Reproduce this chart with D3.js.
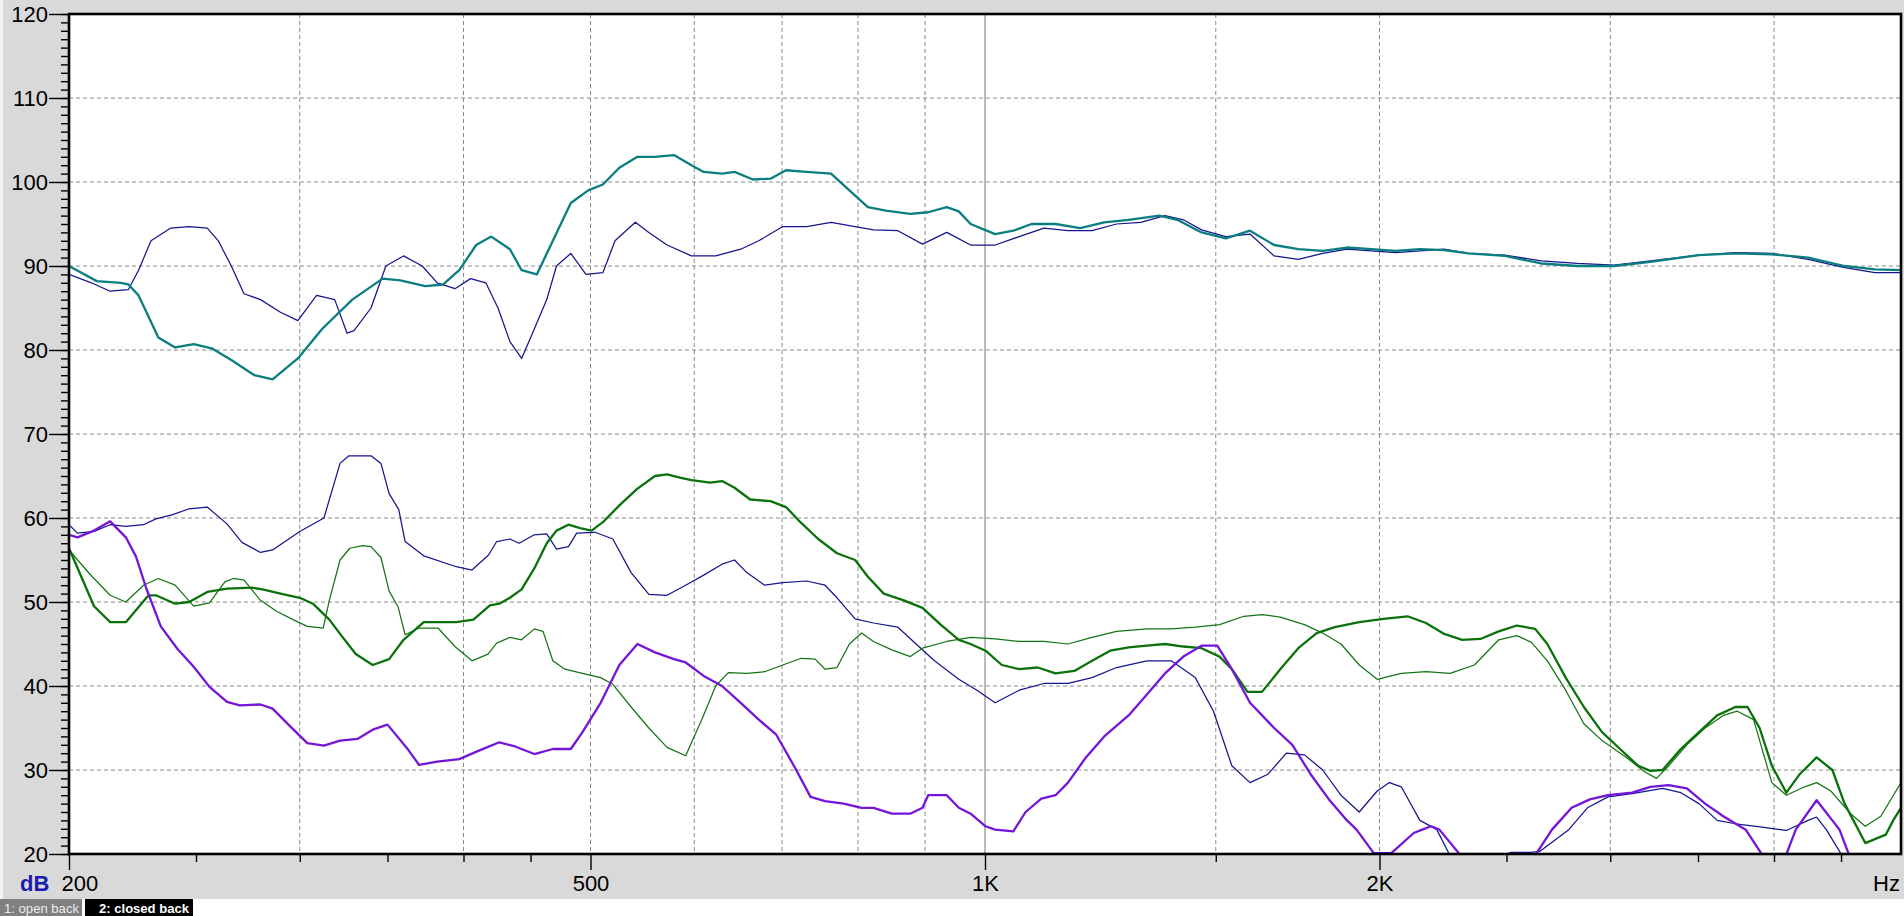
<!DOCTYPE html>
<html><head><meta charset="utf-8">
<script src="https://cdn.jsdelivr.net/npm/d3@7"></script>
<style>
html,body{margin:0;padding:0;background:#fff;overflow:hidden;}
svg{display:block;font-family:"Liberation Sans",Arial,sans-serif;}
</style></head><body>
<svg id="c" width="1904" height="916"></svg>
<script>
// ---------- data (frequency Hz, level dB) ----------
const openTop = [[200,89.0],[208,88.0],[215,87.0],[222,87.2],[226,89.5],[231,93.0],[239,94.5],[247,94.7],[255,94.5],[260,93.0],[266,90.0],[272,86.7],[280,86.0],[290,84.5],[299,83.5],[309,86.5],[319,86.0],[326,82.0],[330,82.3],[340,85.0],[349,90.0],[360,91.2],[372,90.0],[382,88.0],[394,87.3],[405,88.5],[416,88.0],[425,85.0],[434,81.0],[443,79.0],[453,82.5],[463,86.0],[471,90.0],[483,91.5],[496,89.0],[511,89.2],[522,93.0],[541,95.2],[554,94.0],[572,92.5],[597,91.2],[623,91.2],[651,92.0],[672,93.0],[701,94.7],[731,94.7],[763,95.2],[788,94.8],[822,94.3],[858,94.2],[896,92.6],[935,94.0],[975,92.5],[1018,92.5],[1062,93.5],[1109,94.5],[1157,94.2],[1207,94.2],[1260,95.0],[1315,95.2],[1372,96.0],[1417,95.5],[1463,94.3],[1527,93.5],[1593,93.8],[1662,91.2],[1734,90.8],[1810,91.5],[1889,92.0],[1971,91.8],[2057,91.6],[2147,91.8],[2241,92.0],[2338,91.5],[2493,91.3],[2657,90.6],[2833,90.3],[3020,90.1],[3219,90.6],[3506,91.3],[3738,91.6],[3985,91.5],[4247,90.8],[4528,89.8],[4776,89.2],[5000,89.2]];
const openLow = [[200,59.2],[203,58.2],[209,58.4],[215,59.2],[221,59.0],[228,59.2],[233,59.9],[240,60.4],[247,61.1],[255,61.3],[264,59.3],[271,57.1],[280,55.9],[286,56.2],[300,58.4],[313,60.0],[322,66.5],[327,67.4],[340,67.4],[346,66.5],[351,62.9],[357,61.0],[361,57.2],[373,55.5],[395,54.2],[406,53.8],[418,55.6],[424,57.2],[434,57.5],[441,57.0],[453,58.0],[463,58.1],[471,56.3],[481,56.6],[488,58.2],[504,58.3],[520,57.5],[537,53.5],[554,50.9],[572,50.8],[591,52.0],[610,53.2],[630,54.5],[644,55.0],[658,53.5],[679,52.0],[701,52.3],[731,52.5],[755,52.0],[771,50.5],[796,48.0],[822,47.5],[858,47.0],[886,45.0],[915,43.0],[955,40.8],[986,39.5],[1018,38.0],[1062,39.5],[1109,40.3],[1157,40.3],[1207,41.0],[1260,42.2],[1329,43.0],[1387,43.0],[1447,41.0],[1494,37.0],[1543,30.5],[1593,28.5],[1644,29.5],[1698,32.0],[1753,31.8],[1810,30.0],[1869,27.0],[1930,25.0],[1992,27.5],[2035,28.5],[2078,28.0],[2147,24.0],[2212,22.9],[2264,19.8],[2380,18.0],[2480,19.8],[2520,20.2],[2610,20.2],[2650,20.3],[2789,22.9],[2882,25.5],[2988,26.8],[3118,27.2],[3289,27.8],[3396,27.3],[3506,26.0],[3620,24.0],[3738,23.6],[3918,23.2],[4088,22.8],[4247,24.0],[4311,24.4],[4385,22.9],[4509,19.8],[4650,17.5]];
const openMid = [[200,56.2],[207.5,53.3],[215,50.8],[221,50.0],[228,52.0],[234,52.8],[241,52.0],[249,49.5],[256,49.9],[263,52.4],[267,52.8],[272,52.6],[280,50.2],[288,48.9],[296.5,47.9],[304,47.1],[312.6,46.9],[316,50.2],[322,55.0],[327.6,56.4],[335,56.7],[340,56.6],[346,55.3],[351,51.3],[356.6,49.4],[361,46.1],[370,46.9],[382.5,46.9],[394,44.7],[406,43.0],[417.6,43.8],[424,45.1],[434,45.8],[443,45.5],[453,46.8],[460,46.5],[468,43.0],[478,42.0],[493,41.5],[509,41.0],[520,40.2],[537,37.5],[554,35.0],[572,32.7],[591,31.7],[608,36.0],[623,40.0],[637,41.6],[658,41.5],[679,41.7],[701,42.5],[724,43.3],[742,43.2],[755,42.0],[771,42.2],[788,45.0],[805,46.3],[822,45.3],[849,44.3],[877,43.5],[896,44.5],[935,45.3],[975,45.8],[1018,45.6],[1062,45.3],[1109,45.3],[1157,45.0],[1207,45.8],[1260,46.5],[1329,46.8],[1387,46.8],[1447,47.0],[1510,47.3],[1576,48.3],[1627,48.5],[1680,48.2],[1753,47.3],[1810,46.3],[1869,45.0],[1930,42.5],[1992,40.8],[2078,41.5],[2170,41.7],[2264,41.5],[2363,42.5],[2466,45.5],[2546,46.0],[2612,45.2],[2686,43.0],[2774,39.5],[2864,35.5],[2957,33.5],[3086,31.5],[3186,29.8],[3254,29.0],[3324,30.5],[3432,33.0],[3544,35.0],[3659,36.5],[3750,37.0],[3859,36.0],[3985,28.5],[4088,27.0],[4221,28.0],[4311,28.5],[4420,27.5],[4576,24.8],[4696,23.3],[4826,24.5],[5000,28.5]];
const closedTop = [[200,90.0],[210,88.2],[219,88.0],[222,87.8],[226,86.5],[234,81.5],[241,80.3],[249,80.7],[257,80.2],[266,78.8],[277,77.0],[286,76.5],[299,79.0],[312,82.5],[329,86.0],[347,88.5],[358,88.3],[374,87.6],[386,87.8],[397,89.5],[409,92.5],[420,93.5],[434,92.0],[443,89.5],[455,89.0],[468,93.0],[483,97.5],[498,99.0],[511,99.7],[526,101.7],[543,103.0],[560,103.0],[579,103.2],[597,102.0],[610,101.2],[630,101.0],[644,101.2],[665,100.3],[686,100.4],[705,101.4],[731,101.2],[763,101.0],[788,99.0],[814,97.0],[840,96.6],[877,96.2],[905,96.4],[935,97.0],[955,96.5],[975,95.0],[1018,93.8],[1051,94.2],[1085,95.0],[1132,95.0],[1182,94.5],[1233,95.2],[1287,95.5],[1358,96.0],[1402,95.5],[1463,94.0],[1527,93.3],[1593,94.2],[1662,92.5],[1734,92.0],[1810,91.8],[1889,92.2],[1971,92.0],[2057,91.8],[2147,92.0],[2241,91.9],[2338,91.5],[2493,91.2],[2657,90.3],[2833,90.0],[3020,90.0],[3219,90.5],[3506,91.3],[3738,91.5],[3985,91.4],[4247,91.0],[4528,90.0],[4776,89.6],[5000,89.5]];
const closedMid = [[200,56.4],[209,49.5],[215,47.6],[221,47.6],[230,50.8],[233,50.8],[241,49.8],[247,50.0],[255,51.2],[264,51.6],[276,51.7],[281,51.5],[290,51.0],[300,50.5],[307,49.8],[316,47.9],[322,46.2],[331,43.8],[341,42.5],[351,43.2],[360,45.5],[373,47.6],[395,47.6],[407,47.9],[419,49.6],[426,49.8],[434,50.5],[443,51.5],[453,54.0],[463,57.0],[471,58.5],[481,59.2],[491,58.8],[501,58.5],[511,59.5],[526,61.5],[543,63.5],[560,65.0],[572,65.2],[585,64.8],[597,64.5],[617,64.2],[630,64.4],[644,63.6],[662,62.2],[686,62.0],[705,61.3],[723,59.5],[746,57.5],[771,55.8],[796,55.0],[814,53.0],[837,51.0],[867,50.2],[896,49.3],[925,47.3],[955,45.5],[975,45.0],[1001,44.2],[1030,42.5],[1062,42.0],[1097,42.2],[1132,41.5],[1170,41.8],[1207,43.0],[1246,44.2],[1287,44.6],[1329,44.8],[1372,45.0],[1417,44.7],[1463,44.5],[1510,43.5],[1543,42.0],[1586,39.3],[1627,39.3],[1680,42.0],[1734,44.5],[1791,46.3],[1849,47.0],[1930,47.6],[2014,48.0],[2101,48.3],[2170,47.5],[2241,46.2],[2313,45.5],[2388,45.6],[2466,46.5],[2546,47.2],[2629,46.8],[2686,45.0],[2774,41.0],[2864,37.5],[2957,34.5],[3052,32.5],[3151,30.5],[3219,29.9],[3289,30.0],[3396,32.5],[3506,34.5],[3620,36.5],[3738,37.5],[3818,37.5],[3900,35.0],[3985,30.5],[4088,27.3],[4185,29.5],[4311,31.5],[4432,30.0],[4528,26.0],[4696,21.3],[4868,22.3],[4932,24.0],[5000,25.5]];
const closedLow = [[200,58.0],[203,57.7],[209,58.5],[215,59.6],[221,57.7],[225,55.4],[229,51.7],[235,47.1],[242,44.4],[249,42.3],[256,39.9],[264,38.1],[270,37.7],[280,37.8],[286,37.3],[295,35.2],[304,33.2],[313,32.9],[322,33.5],[332,33.7],[341,34.8],[350,35.4],[363,32.4],[370,30.6],[382,31.0],[397,31.3],[411,32.3],[426,33.3],[438,32.8],[453,31.9],[468,32.5],[483,32.5],[493,34.5],[509,38.0],[526,42.5],[543,45.0],[560,44.0],[579,43.2],[591,42.8],[610,41.2],[630,40.0],[651,38.0],[672,36.0],[693,34.2],[716,30.3],[736,26.8],[755,26.3],[780,26.0],[805,25.5],[822,25.5],[849,24.8],[877,24.8],[896,25.5],[905,27.0],[935,27.0],[955,25.5],[975,24.8],[1001,23.3],[1018,22.9],[1051,22.7],[1074,25.0],[1104,26.6],[1132,27.0],[1157,28.5],[1194,31.5],[1233,34.0],[1287,36.5],[1329,39.0],[1372,41.5],[1417,43.5],[1463,44.8],[1504,44.8],[1543,42.0],[1593,38.0],[1662,35.0],[1716,33.0],[1772,29.5],[1830,26.5],[1889,24.0],[1921,22.9],[1980,20.1],[2042,20.1],[2124,22.5],[2156,22.9],[2190,23.3],[2222,22.9],[2313,19.6],[2400,17.5],[2540,17.5],[2628,19.8],[2708,22.9],[2803,25.5],[2894,26.5],[2988,27.0],[3118,27.3],[3219,28.0],[3324,28.2],[3432,27.8],[3544,26.0],[3659,24.5],[3806,22.9],[3922,19.8],[4000,18.0],[4084,19.8],[4156,22.9],[4311,26.4],[4488,22.9],[4566,19.8],[4700,17.5]];

const yMajor = [20,30,40,50,60,70,80,90,100,110,120];
const xMajor = [200,500,1000,2000];
const xMajorLabels = ["200","500","1K","2K"];
const xMinor = [250,300,350,400,450,1500,2500,3000,3500,4000,4500];
const xGrid = [300,400,500,600,700,800,900,1500,2000,3000,4000];
const legendLabels = ["1: open back","2: closed back"];

// ---------- layout ----------
const svg = d3.select("#c");
const L=69, T=14, R=1901, B=854;
const x = d3.scaleLog().domain([200,5000]).range([L,R]);
const y = d3.scaleLinear().domain([20,120]).range([B,T]);

svg.append("rect").attr("x",0).attr("y",0).attr("width",1904).attr("height",899).attr("fill","#d9d9d9");
svg.append("rect").attr("x",0).attr("y",0).attr("width",3).attr("height",899).attr("fill","#f2f2f2");
svg.append("rect").attr("x",L).attr("y",T).attr("width",R-L).attr("height",B-T).attr("fill","#ffffff");

// grid
const grid = svg.append("g");
grid.selectAll("line.h").data(yMajor.filter(v=>v>20&&v<120)).enter().append("line")
  .attr("x1",L).attr("x2",R).attr("y1",d=>y(d)).attr("y2",d=>y(d))
  .attr("stroke","#8a8a8a").attr("stroke-width",1).attr("stroke-dasharray","4,3");
grid.selectAll("line.v").data(xGrid).enter().append("line")
  .attr("y1",T).attr("y2",B).attr("x1",d=>x(d)).attr("x2",d=>x(d))
  .attr("stroke","#8a8a8a").attr("stroke-width",1).attr("stroke-dasharray","4,3");
grid.append("line").attr("y1",T).attr("y2",B).attr("x1",x(1000)).attr("x2",x(1000))
  .attr("stroke","#8c8c8c").attr("stroke-width",1.2);

// series
svg.append("clipPath").attr("id","clip").append("rect")
  .attr("x",L).attr("y",T).attr("width",R-L).attr("height",B-T);
const line = d3.line().x(d=>x(d[0])).y(d=>y(d[1]));
const plot = svg.append("g").attr("clip-path","url(#clip)");
const series = [
  {d:openTop, c:"#15158f", w:1.25},
  {d:openLow, c:"#15158f", w:1.25},
  {d:openMid, c:"#147414", w:1.25},
  {d:closedTop, c:"#0b7e80", w:2.3},
  {d:closedMid, c:"#0b720b", w:2.3},
  {d:closedLow, c:"#7415d8", w:2.3}
];
series.forEach(s=>{
  plot.append("path").attr("d",line(s.d)).attr("fill","none")
    .attr("stroke",s.c).attr("stroke-width",s.w).attr("stroke-linejoin","round");
});

// border
svg.append("rect").attr("x",L).attr("y",T).attr("width",R-L).attr("height",B-T)
  .attr("fill","none").attr("stroke","#000").attr("stroke-width",2.6);

// axes
const fs = "22px";
const yMin = svg.append("g").attr("transform",`translate(${L},0)`)
  .call(d3.axisLeft(y).tickValues(d3.range(20,121,1)).tickSize(8).tickFormat(""));
const yMaj = svg.append("g").attr("transform",`translate(${L},0)`)
  .call(d3.axisLeft(y).tickValues(yMajor).tickSize(20).tickPadding(1).tickFormat(d3.format("d")));
const xMin = svg.append("g").attr("transform",`translate(0,${B})`)
  .call(d3.axisBottom(x).tickValues(xMinor).tickSize(8).tickFormat(""));
const xMaj = svg.append("g").attr("transform",`translate(0,${B})`)
  .call(d3.axisBottom(x).tickValues(xMajor).tickSize(16).tickPadding(5).tickFormat((d,i)=>xMajorLabels[i]));
[yMin,yMaj,xMin,xMaj].forEach(g=>{
  g.select(".domain").remove();
  g.selectAll(".tick line").attr("stroke","#000").attr("stroke-width",1.4);
  g.selectAll("text").attr("font-size",fs).attr("fill","#000").attr("font-family","'Liberation Sans',Arial,sans-serif");
});
xMaj.selectAll(".tick").filter(d=>d===200).select("text").attr("text-anchor","start").attr("dx",-8);

svg.append("text").attr("x",20).attr("y",891).attr("font-size",fs).attr("font-weight","bold")
  .attr("fill","#1c1cae").text("dB");
svg.append("text").attr("x",1900).attr("y",891).attr("font-size",fs).attr("text-anchor","end")
  .attr("fill","#000").text("Hz");

// legend
svg.append("rect").attr("x",0).attr("y",899).attr("width",82).attr("height",17).attr("fill","#808080");
svg.append("text").attr("x",4).attr("y",913).attr("font-size","13px").attr("fill","#ececec")
  .attr("textLength",75).attr("lengthAdjust","spacingAndGlyphs").text(legendLabels[0]);
svg.append("rect").attr("x",85).attr("y",899).attr("width",108).attr("height",17).attr("fill","#000");
svg.append("text").attr("x",99).attr("y",913).attr("font-size","13px").attr("font-weight","bold").attr("fill","#fff")
  .attr("textLength",90).attr("lengthAdjust","spacingAndGlyphs").text(legendLabels[1]);
</script>
</body></html>
